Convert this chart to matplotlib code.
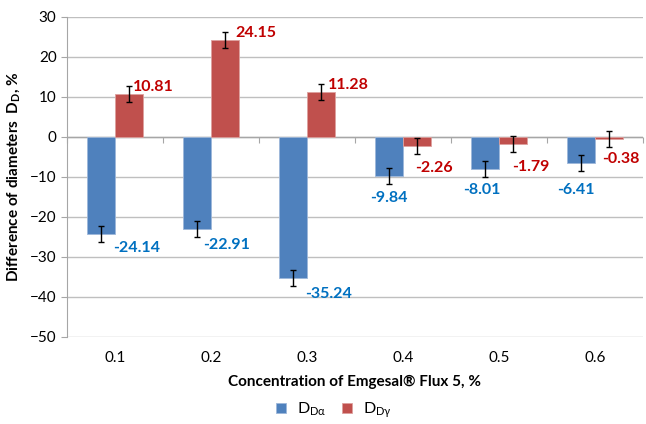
import numpy as np
import matplotlib
matplotlib.use("Agg")
import matplotlib.pyplot as plt

plt.rcParams['font.family'] = ['Lato', 'DejaVu Sans']
plt.rcParams['mathtext.default'] = 'regular'

# ---------- data ----------
categories = ["0.1", "0.2", "0.3", "0.4", "0.5", "0.6"]
d_alpha = [-24.14, -22.91, -35.24, -9.84, -8.01, -6.41]
d_gamma = [10.81, 24.15, 11.28, -2.26, -1.79, -0.38]
err_alpha = [2, 2, 2, 2, 2, 2]
err_gamma = [2, 2, 2, 2, 2, 2]

# label offsets in pixels (dx of left edge from bar centre, dy of text centre from bar end, down = +)
off_alpha = [(12, 14), (6, 16), (12, 16), (-19, 22), (-22, 21), (-24, 27)]
off_gamma = [(4, -7), (10, -7), (7, -7), (-2, 22), (-1, 23), (-7, 20)]

blue, red = "#4F81BD", "#C0504D"
blue_txt, red_txt = "#0070C0", "#C00000"

fig = plt.figure(figsize=(6.46, 4.24), dpi=100)
ax = fig.add_axes([67 / 646, 1 - 337 / 424, 576 / 646, 320 / 424])

x = np.arange(1, len(categories) + 1)
w = 0.29
ax.bar(x - w / 2, d_alpha, w, color=blue, edgecolor="#9DB7DA", linewidth=0.6, zorder=3,
       yerr=err_alpha, error_kw=dict(ecolor="black", elinewidth=1, capsize=2.5, capthick=1), label=r"D$_{D\alpha}$")
ax.bar(x + w / 2, d_gamma, w, color=red, edgecolor="#DDA09E", linewidth=0.6, zorder=3,
       yerr=err_gamma, error_kw=dict(ecolor="black", elinewidth=1, capsize=2.5, capthick=1), label=r"D$_{D\gamma}$")

px = 72 / 100
for xi, v, (dx, dy) in zip(x - w / 2, d_alpha, off_alpha):
    ax.annotate(f"{v:.2f}", (xi, v), xytext=(dx * px, -dy * px), textcoords="offset points",
                ha="left", va="center", color=blue_txt, fontsize=11.5, fontweight="bold", zorder=5)
for xi, v, (dx, dy) in zip(x + w / 2, d_gamma, off_gamma):
    ax.annotate(f"{v:.2f}", (xi, v), xytext=(dx * px, -dy * px), textcoords="offset points",
                ha="left", va="center", color=red_txt, fontsize=11.5, fontweight="bold", zorder=5)

ax.set_xlim(0.5, len(categories) + 0.5)
ax.set_ylim(-50, 30)
ax.set_yticks(np.arange(-50, 31, 10))
ax.yaxis.grid(True, color="#BFBFBF", linewidth=1)
ax.set_axisbelow(True)
for s in ["top", "right", "bottom"]:
    ax.spines[s].set_visible(False)
ax.spines["left"].set_color("#A6A6A6")
ax.tick_params(axis="y", colors="#A6A6A6", length=4, labelcolor="black", labelsize=11)
ax.set_xticks(x)
ax.set_xticklabels(categories)
ax.tick_params(axis="x", length=0, labelsize=11, pad=10)

# category axis crossing at zero
ax.axhline(0, color="#A6A6A6", linewidth=1, zorder=2)
sec = ax.secondary_xaxis(50 / 80)
sec.set_xticks(np.arange(0.5, len(categories) + 1, 1))
sec.tick_params(axis="x", direction="out", length=4, colors="#A6A6A6", labelbottom=False, labeltop=False)
sec.xaxis.set_ticks_position("bottom")
sec.set_xticklabels([])
for s in sec.spines.values():
    s.set_visible(False)

ax.set_xlabel("Concentration of Emgesal® Flux 5, %", fontsize=11, fontweight="bold", labelpad=7)
ax.set_ylabel(r"Difference of diameters  D$_D$, %", fontsize=11, fontweight="bold", labelpad=6)

fig.legend(loc="center", bbox_to_anchor=(334 / 646, 1 - 410 / 424), ncol=2, frameon=False,
           fontsize=11.5, handlelength=0.6, handleheight=0.6, handletextpad=0.7, columnspacing=1.0)

fig.savefig("out.png", dpi=100)
